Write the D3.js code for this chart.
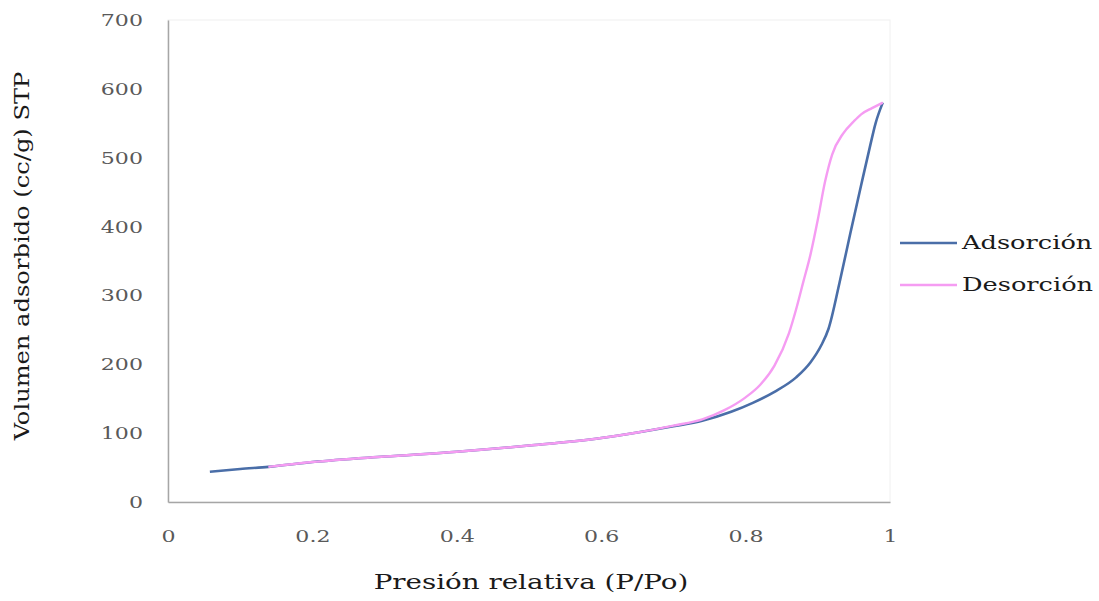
<!DOCTYPE html>
<html>
<head>
<meta charset="utf-8">
<script src="https://cdn.jsdelivr.net/npm/d3@7"></script>
<style>
  html, body { margin: 0; padding: 0; background: #fff; }
  svg { display: block; }
  text { font-family: "DejaVu Serif", serif; }
</style>
</head>
<body>
<svg id="chart" width="1099" height="601"></svg>
<script>
// Data
const adsorcionX = [0.058, 0.10, 0.139, 0.20, 0.30, 0.40, 0.50, 0.60, 0.65, 0.70, 0.74, 0.78, 0.81, 0.84, 0.87, 0.89, 0.905, 0.915, 0.93, 0.945, 0.96, 0.972, 0.98, 0.99];
const adsorcionY = [44, 48, 51, 58, 66, 73, 82, 93, 101, 110, 118, 131, 144, 160, 181, 203, 228, 252, 318, 390, 460, 515, 550, 580];
const desorcionX = [0.139, 0.20, 0.30, 0.40, 0.50, 0.60, 0.65, 0.70, 0.74, 0.77, 0.80, 0.82, 0.84, 0.86, 0.87, 0.88, 0.89, 0.90, 0.91, 0.92, 0.935, 0.95, 0.96, 0.975, 0.99];
const desorcionY = [51, 58, 66, 73, 82, 93, 101, 111, 120, 133, 152, 170, 198, 245, 280, 320, 360, 410, 465, 505, 535, 553, 563, 572, 580];
const xTicks = [0, 0.2, 0.4, 0.6, 0.8, 1];
const yTicks = [0, 100, 200, 300, 400, 500, 600, 700];
const seriesNames = ["Adsorción", "Desorción"];
const seriesColors = ["#4a6ea8", "#f59cf2"];
const xTitle = "Presión relativa (P/Po)";
const yTitle = "Volumen adsorbido (cc/g) STP";

const svg = d3.select("#chart");
const pLeft = 168, pRight = 890, pTop = 20, pBottom = 502;
const stretch = 1.3; // the reference typeface is set wide

function widen(sel, factor) {
  sel.each(function () {
    const w = this.getComputedTextLength();
    d3.select(this).attr("textLength", w * factor).attr("lengthAdjust", "spacingAndGlyphs");
  });
}

const x = d3.scaleLinear().domain([0, 1]).range([pLeft, pRight]);
const y = d3.scaleLinear().domain([0, 700]).range([pBottom, pTop]);

// faint plot-area border
svg.append("rect")
  .attr("x", pLeft).attr("y", pTop)
  .attr("width", pRight - pLeft).attr("height", pBottom - pTop)
  .attr("fill", "none").attr("stroke", "#f0f0f0").attr("stroke-width", 1);

// axes
const xAxis = d3.axisBottom(x).tickValues(xTicks).tickSize(0).tickPadding(28)
  .tickFormat(d => d === 0 || d === 1 ? String(d) : d3.format(".1f")(d));
const gx = svg.append("g").attr("transform", `translate(0,${pBottom})`).call(xAxis);
gx.select(".domain").attr("stroke", "#a6a6a6").attr("stroke-width", 1.5);
gx.selectAll("text").attr("fill", "#595959").attr("font-size", 17)
  .style("font-family", "'DejaVu Serif', serif");
widen(gx.selectAll("text"), stretch);

const yAxis = d3.axisLeft(y).tickValues(yTicks).tickSize(0).tickPadding(25);
const gy = svg.append("g").attr("transform", `translate(${pLeft},0)`).call(yAxis);
gy.select(".domain").attr("stroke", "#a6a6a6").attr("stroke-width", 1.5);
gy.selectAll("text").attr("fill", "#595959").attr("font-size", 17)
  .style("font-family", "'DejaVu Serif', serif");
widen(gy.selectAll("text"), stretch);

// lines
const line = d3.line().x(d => x(d[0])).y(d => y(d[1])).curve(d3.curveMonotoneX);
const ads = adsorcionX.map((v, i) => [v, adsorcionY[i]]);
const des = desorcionX.map((v, i) => [v, desorcionY[i]]);

svg.append("path").datum(ads).attr("d", line)
  .attr("fill", "none").attr("stroke", seriesColors[0]).attr("stroke-width", 2.6);
svg.append("path").datum(des).attr("d", line)
  .attr("fill", "none").attr("stroke", seriesColors[1]).attr("stroke-width", 2.4);

// axis titles
const xt = svg.append("text").attr("x", (pLeft + pRight) / 2 + 2).attr("y", 589)
  .attr("text-anchor", "middle").attr("font-size", 21).attr("fill", "#1a1a1a")
  .text(xTitle);
widen(xt, 1.32);
const yt = svg.append("text")
  .attr("transform", `translate(29,${256}) rotate(-90)`)
  .attr("text-anchor", "middle").attr("font-size", 21).attr("fill", "#1a1a1a")
  .text(yTitle);
widen(yt, 1.15);

// legend
const legend = svg.append("g");
seriesNames.forEach((name, i) => {
  const ly = 243 + i * 42;
  legend.append("line").attr("x1", 900).attr("x2", 957).attr("y1", ly).attr("y2", ly)
    .attr("stroke", seriesColors[i]).attr("stroke-width", 2.6);
  const t = legend.append("text").attr("x", 962).attr("y", ly + 6)
    .attr("font-size", 19).attr("fill", "#1a1a1a").text(name);
  widen(t, 1.35);
});
</script>
</body>
</html>
